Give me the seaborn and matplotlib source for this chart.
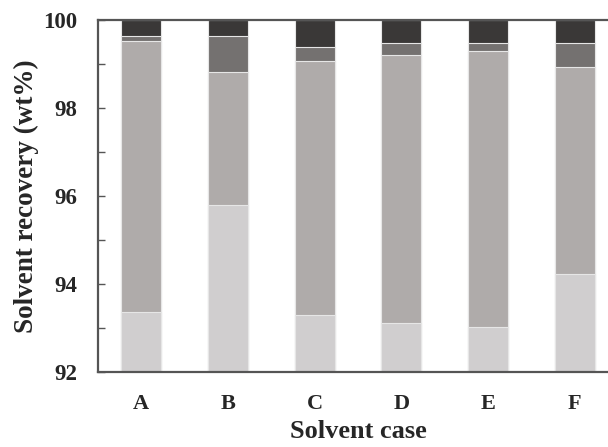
import numpy as np
import pandas as pd
import matplotlib
matplotlib.use('Agg')
import matplotlib.pyplot as plt
from matplotlib.ticker import MultipleLocator
import seaborn as sns

# datos (tope acumulado de cada segmento, wt%)
casos = ['A', 'B', 'C', 'D', 'E', 'F']
tope_claro = [93.36, 95.80, 93.30, 93.11, 93.02, 94.22]
tope_medio = [99.53, 98.81, 99.06, 99.20, 99.30, 98.93]
tope_oscuro = [99.64, 99.64, 99.39, 99.48, 99.48, 99.48]
tope_negro = [100.0, 100.0, 100.0, 100.0, 100.0, 100.0]

colores = ['#3a3837', '#747170', '#afabaa', '#d0cecf']

sns.set_style('white')
plt.rcParams['font.family'] = ['Liberation Serif', 'DejaVu Serif']
plt.rcParams['font.weight'] = 'bold'

df = pd.DataFrame({'caso': casos, 'negro': tope_negro, 'oscuro': tope_oscuro,
                   'medio': tope_medio, 'claro': tope_claro})

fig = plt.figure(figsize=(6.08, 4.47), dpi=100)
ax = fig.add_axes([98 / 608, 75 / 447, 520 / 608, 352 / 447])

# barras apiladas: se dibuja de la mas alta a la mas baja
for col, c in zip(['negro', 'oscuro', 'medio', 'claro'], colores):
    sns.barplot(data=df, x='caso', y=col, color=c, width=0.46,
                edgecolor='#e6e6e6', linewidth=0.8, saturation=1, ax=ax)

ax.set_ylim(92, 100)
ax.set_xlim(-0.5, 5.5)
ax.yaxis.set_major_locator(MultipleLocator(2))
ax.yaxis.set_minor_locator(MultipleLocator(1))
ax.tick_params(axis='y', which='both', direction='in', length=5, width=1,
               color='#555555', labelsize=16.5, pad=15, left=True)
ax.tick_params(axis='x', length=0, labelsize=16, pad=16)
for lab in ax.get_xticklabels() + ax.get_yticklabels():
    lab.set_fontweight('bold')

for s in ['left', 'bottom', 'top']:
    ax.spines[s].set_color('#555555')
    ax.spines[s].set_linewidth(1.6)
ax.spines['right'].set_visible(False)

ax.set_xlabel('Solvent case', fontsize=19, fontweight='bold', labelpad=4)
ax.set_ylabel('Solvent recovery (wt%)', fontsize=19.5, fontweight='bold', labelpad=3)

fig.savefig('out.png', dpi=100)
